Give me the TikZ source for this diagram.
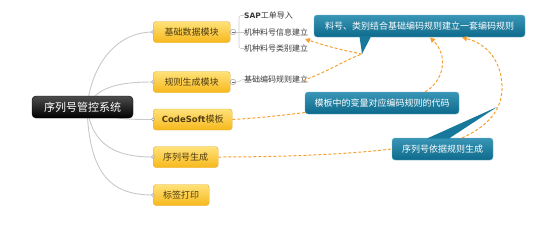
\documentclass[tikz,border=0pt]{standalone}
\usepackage{fontspec}
\setmainfont{Noto Sans CJK SC}
\newfontfamily\latinb{DejaVu Sans}
\usetikzlibrary{arrows.meta,backgrounds,calc}
\definecolor{ybord}{HTML}{E3AC25}
\definecolor{ytop}{HTML}{FFE27A}
\definecolor{ybot}{HTML}{F7B81C}
\definecolor{ytext}{HTML}{4E3C12}
\definecolor{ctop}{HTML}{3A96B6}
\definecolor{cbot}{HTML}{0D6A8C}
\definecolor{cbord}{HTML}{6AB2CC}
\definecolor{cfill}{HTML}{17789B}
\definecolor{rel}{HTML}{F6A032}
\definecolor{branchc}{HTML}{C9C9C9}
\definecolor{subtext}{HTML}{3A3A3A}
\begin{document}
\begin{tikzpicture}[x=1pt,y=-1pt,
  topic/.style={draw=ybord, top color=ytop, bottom color=ybot, rounded corners=3pt,
    minimum height=21pt, inner xsep=0pt, inner ysep=0pt,
    font=\fontsize{9}{10}\selectfont, text=ytext, anchor=west},
  rootbox/.style={draw=black, top color=black!70, bottom color=black, rounded corners=4pt,
    minimum width=101pt, minimum height=22pt, inner sep=0pt,
    font=\fontsize{11}{12}\selectfont, text=white},
  callbox/.style={draw=cbord, top color=ctop, bottom color=cbot, rounded corners=3pt,
    minimum height=22pt, inner sep=0pt, font=\fontsize{9}{10}\selectfont, text=white},
  subtopic/.style={anchor=west, inner sep=0pt, font=\fontsize{8}{9}\selectfont, text=subtext},
  branch/.style={draw=branchc, line width=0.9pt},
  relline/.style={draw=rel, line width=1pt, dash pattern=on 3pt off 2pt},
  reltip/.style={-{Triangle[length=5pt,width=5pt]}},
  knob/.style={circle, draw=branchc!80!black, fill=white, line width=0.5pt, minimum size=5.5pt, inner sep=0pt},
  dot/.style={circle, draw=branchc!80!black, fill=white, line width=0.4pt, minimum size=3pt, inner sep=0pt}
]
\useasboundingbox (0,0) rectangle (554,233);

% root and main topics
\node[rootbox] (root) at (82.5,107) {序列号管控系统};
\node[topic, minimum width=77pt] (t1) at (153,32) {基础数据模块};
\node[topic, minimum width=77pt] (t2) at (153,82) {规则生成模块};
\node[topic, minimum width=79pt] (t3) at (153,119.5) {{\latinb\bfseries\fontsize{8.5}{10}\selectfont CodeSoft}模板};
\node[topic, minimum width=65pt] (t4) at (153,157) {序列号生成};
\node[topic, minimum width=56pt] (t5) at (153,195) {标签打印};

\coordinate (hub) at (87,107);
\begin{scope}[on background layer]
  \draw[branch] (hub) .. controls +(5,-45) and +(-35,0) .. (t1.west);
  \draw[branch] (hub) .. controls +(10,-20) and +(-35,0) .. (t2.west);
  \draw[branch] (hub) .. controls +(20,12) and +(-30,0) .. (t3.west);
  \draw[branch] (hub) .. controls +(5,40) and +(-35,0) .. (t4.west);
  \draw[branch] (hub) .. controls +(2,70) and +(-40,0) .. (t5.west);
\end{scope}
\foreach \t in {t1,t2,t3,t4,t5} \node[dot] at (\t.west) {};

% sub topics
\node[knob] (k1) at (233,32) {};
\draw[black!55, line width=0.5pt] ($(k1.center)+(-1.5,0)$) -- ($(k1.center)+(1.5,0)$);
\node[knob] (k2) at (233,82) {};
\draw[black!55, line width=0.5pt] ($(k2.center)+(-1.5,0)$) -- ($(k2.center)+(1.5,0)$);

\node[subtopic] (s1) at (244,15.5) {{\latinb\bfseries\fontsize{7.5}{9}\selectfont SAP}工单导入};
\node[subtopic] (s2) at (244,32) {机种料号信息建立};
\node[subtopic] (s3) at (244,48.5) {机种料号类别建立};
\node[subtopic] (s4) at (244,79.5) {基础编码规则建立};

\draw[branch, line width=0.6pt] (k1.east) -- (s2.west);
\draw[branch, line width=0.6pt, rounded corners=2pt] (s1.west) -- (239,15.5) -- (239,48.5) -- (s3.west);
\draw[branch, line width=0.6pt] (k2.east) .. controls +(4,0) and +(-4,0) .. (s4.west);

% callouts
\node[callbox, minimum width=211pt] (ca) at (419.5,26) {料号、类别结合基础编码规则建立一套编码规则};
\node[callbox, minimum width=154pt] (cb) at (382,103) {模板中的变量对应编码规则的代码};
\node[callbox, minimum width=101pt] (cc) at (442.5,149) {序列号依据规则生成};

\coordinate (tipa) at (362,54);
\coordinate (tipc) at (497,107);
\fill[cfill] (359.5,36.5) -- (tipa) -- (371,36.5) -- cycle;
\fill[cfill] (427,138.5) -- (tipc) -- (449,138.5) -- cycle;

% relationship lines
\coordinate (e1) at (305,39);
\coordinate (e2) at (303,80.5);
\coordinate (ab1) at (430,37.5);
\coordinate (ab2) at (462,37.5);
\coordinate (bt) at (425,92);
\coordinate (ct) at (462,138);

\draw[relline, reltip] (tipa) .. controls (340,50) and (320,44) .. (e1);
\draw[relline] (e2) .. controls (325,73) and (345,60) .. (tipa);
\draw[relline, reltip] (bt) .. controls (445,80) and (448,55) .. (ab1);
\draw[relline, reltip] (ct) .. controls (488,126) and (503,110) .. (502,85) .. controls (501,62) and (488,44) .. (ab2);
\draw[relline] (t3.east) .. controls (260,118) and (285,115) .. (cb.west |- 0,112.5);
\draw[relline] (t4.east) .. controls (290,157) and (350,154) .. (cc.west);
\end{tikzpicture}
\end{document}
